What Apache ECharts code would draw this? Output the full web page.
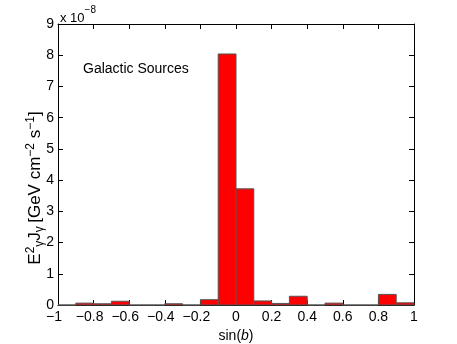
<!DOCTYPE html>
<html>
<head>
<meta charset="utf-8">
<script src="https://cdn.jsdelivr.net/npm/echarts@6/dist/echarts.min.js"></script>
<style>
  html, body { margin: 0; padding: 0; background: #fff; }
  #main { width: 457px; height: 344px; }
</style>
</head>
<body>
<div id="main"></div>
<script>
// histogram bins of sin(b), width 0.1
var binStarts = [-1.0, -0.9, -0.8, -0.7, -0.6, -0.5, -0.4, -0.3, -0.2, -0.1,
                 0.0, 0.1, 0.2, 0.3, 0.4, 0.5, 0.6, 0.7, 0.8, 0.9];
var binWidth = 0.1;
// E^2 J values in units of 1e-8 GeV cm^-2 s^-1
var binValues = [0, 0.06, 0.04, 0.12, 0, 0, 0.04, 0, 0.17, 8.04,
                 3.72, 0.13, 0.05, 0.28, 0, 0.06, 0, 0, 0.34, 0.07];
var xTicks = [-1, -0.8, -0.6, -0.4, -0.2, 0, 0.2, 0.4, 0.6, 0.8, 1];
var yTicks = [0, 1, 2, 3, 4, 5, 6, 7, 8, 9];

var font = 'Liberation Sans, Arial, Helvetica, sans-serif';

// matlab style: minus sign hangs left of the centred digits
function fmt(v) {
    v = Number(v.toFixed(1));
    if (v < 0) return '{n|\u2212' + Math.abs(v) + '}{p| }';
    return '{n|' + v + '}';
}

var data = binStarts.map(function (s, i) {
    return [s, s + binWidth, binValues[i]];
});

var chart = echarts.init(document.getElementById('main'));

var axisLine = { show: true, onZero: false, lineStyle: { color: '#000', width: 1 } };
var axisTick = { show: true, inside: true, length: 5, lineStyle: { color: '#000' } };

chart.setOption({
    animation: false,
    grid: { left: 58, right: 43, top: 24, bottom: 39, containLabel: false, outerBoundsMode: 'none' },
    xAxis: [{
        type: 'value',
        min: xTicks[0], max: xTicks[xTicks.length - 1], interval: 0.2,
        axisLine: axisLine, axisTick: axisTick,
        splitLine: { show: false },
        axisLabel: {
            color: '#000', margin: 5, formatter: fmt,
            rich: {
                n: { fontFamily: font, fontSize: 14, color: '#000' },
                p: { fontFamily: font, fontSize: 14, width: 8 }
            }
        },
        name: '{n|sin(}{i|b}{n|)}',
        nameLocation: 'middle', nameGap: 20,
        nameTextStyle: {
            rich: {
                n: { fontFamily: font, fontSize: 14, color: '#000' },
                i: { fontFamily: font, fontSize: 14, color: '#000', fontStyle: 'italic' }
            }
        }
    }, {
        type: 'value', position: 'top',
        min: xTicks[0], max: xTicks[xTicks.length - 1], interval: 0.2,
        axisLine: axisLine, axisTick: axisTick,
        axisLabel: { show: false }, splitLine: { show: false }
    }],
    yAxis: [{
        type: 'value',
        min: yTicks[0], max: yTicks[yTicks.length - 1], interval: 1,
        axisLine: axisLine, axisTick: axisTick,
        splitLine: { show: false },
        axisLabel: { color: '#000', fontFamily: font, fontSize: 14, margin: 4 }
    }, {
        type: 'value', position: 'right',
        min: yTicks[0], max: yTicks[yTicks.length - 1], interval: 1,
        axisLine: axisLine, axisTick: axisTick,
        axisLabel: { show: false }, splitLine: { show: false }
    }],
    graphic: [{
        type: 'text', x: 35, y: 188, rotation: Math.PI / 2,
        style: {
            text: '{n|E}{sup|2}{sub|\u03b3}{n|J}{sub|\u03b3} {n|[GeV cm}{sup|\u22122}{n| s}{sup|\u22121}{n|]}',
            align: 'center', verticalAlign: 'middle',
            rich: {
                n: { fontFamily: font, fontSize: 17, fill: '#000', lineHeight: 21, verticalAlign: 'middle' },
                sup: { fontFamily: font, fontSize: 12, fill: '#000', lineHeight: 21, verticalAlign: 'top' },
                sub: { fontFamily: font, fontSize: 12, fill: '#000', lineHeight: 21, verticalAlign: 'bottom' }
            }
        }
    }, {
        type: 'text', left: 60, top: 5,
        style: {
            text: '{n|x 10}{sup|\u22128}',
            rich: {
                n: { fontFamily: font, fontSize: 13, fill: '#000', lineHeight: 20, verticalAlign: 'bottom' },
                sup: { fontFamily: font, fontSize: 10, fill: '#000', lineHeight: 20, verticalAlign: 'top' }
            }
        }
    }, {
        type: 'text', left: 83, top: 62,
        style: { text: 'Galactic Sources', font: '14px ' + font, fill: '#000' }
    }],
    series: [{
        type: 'custom',
        xAxisIndex: 0, yAxisIndex: 0,
        data: data,
        renderItem: function (params, api) {
            var p0 = api.coord([api.value(0), 0]);
            var p1 = api.coord([api.value(1), api.value(2)]);
            return {
                type: 'rect',
                shape: { x: p0[0], y: p1[1], width: p1[0] - p0[0], height: p0[1] - p1[1] },
                style: { fill: '#ff0000', stroke: '#555555', lineWidth: 1 }
            };
        },
        encode: { x: [0, 1], y: 2 }
    }]
});
</script>
</body>
</html>
